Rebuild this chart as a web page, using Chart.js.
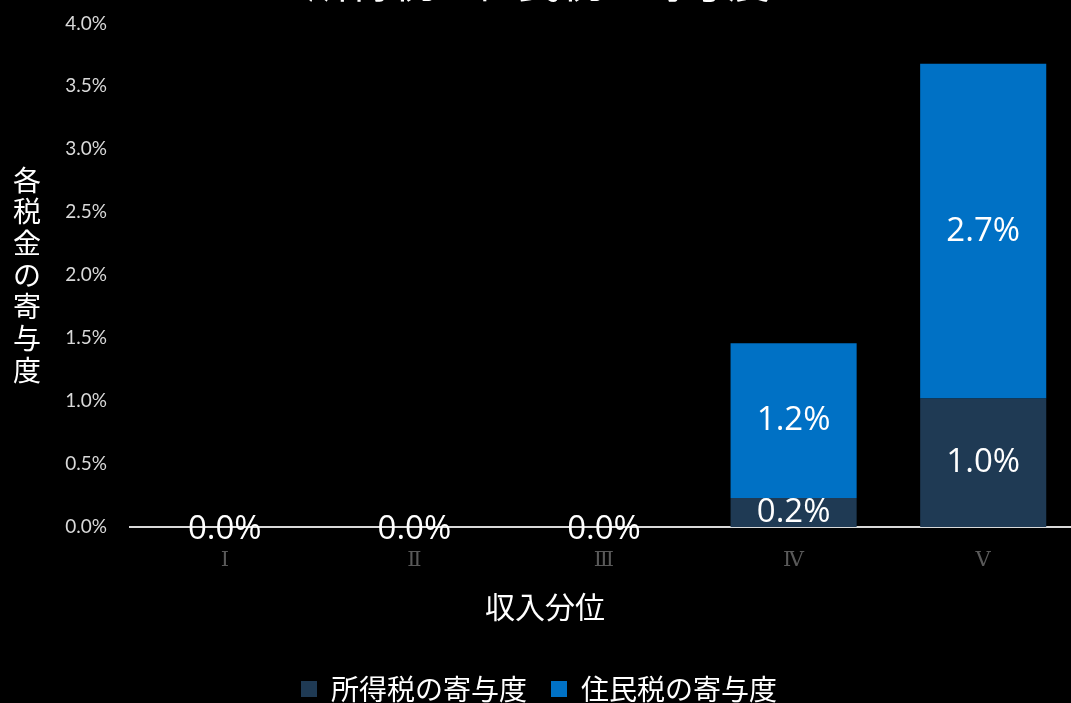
<!DOCTYPE html>
<html>
<head>
<meta charset="utf-8">
<script src="https://cdn.jsdelivr.net/npm/chart.js@4"></script>
<style>
  html, body { margin: 0; padding: 0; background: #000; overflow: hidden; }
  #wrap { position: absolute; left: 0; top: -43px; width: 1078px; height: 756px; }
</style>
</head>
<body>
<div id="wrap"><canvas id="chart"></canvas></div>
<script>
// data
const categories = ['Ⅰ', 'Ⅱ', 'Ⅲ', 'Ⅳ', 'Ⅴ'];
const incomeTax = [0.0, 0.0, 0.0, 0.23, 1.02];
const residentTax = [0.0, 0.0, 0.0, 1.23, 2.66];
const incomeLabels = ['0.0%', '0.0%', '0.0%', '0.2%', '1.0%'];
const residentLabels = ['', '', '', '1.2%', '2.7%'];
const seriesNames = ['所得税の寄与度', '住民税の寄与度'];
const yTitle = '各税金の寄与度';
const xTitle = '収入分位';

const labelFont = '"Noto Sans CJK JP", "Noto Sans", sans-serif';

// value labels in the middle of each bar piece
const barLabels = {
  id: 'barLabels',
  afterDatasetsDraw(chart) {
    const ctx = chart.ctx;
    const texts = [incomeLabels, residentLabels];
    ctx.save();
    ctx.fillStyle = '#ffffff';
    ctx.font = '33px "Open Sans", sans-serif';
    ctx.textAlign = 'center';
    ctx.textBaseline = 'middle';
    chart.data.datasets.forEach(function(ds, i) {
      chart.getDatasetMeta(i).data.forEach(function(bar, j) {
        const t = texts[i][j];
        if (!t) return;
        let y = (bar.y + bar.base) / 2;
        if (Math.abs(bar.base - bar.y) < 1) y += 3;
        ctx.fillText(t, bar.x, y);
      });
    });
    ctx.restore();
  }
};

// axis titles (y one is written top to bottom)
const axisTitles = {
  id: 'axisTitles',
  afterDraw(chart) {
    const ctx = chart.ctx;
    ctx.save();
    ctx.fillStyle = '#ffffff';
    ctx.font = '28px ' + labelFont;
    ctx.textAlign = 'center';
    ctx.textBaseline = 'middle';
    for (let i = 0; i < yTitle.length; i++) {
      ctx.fillText(yTitle[i], 27, 223 + i * 31.7);
    }
    ctx.font = '30px ' + labelFont;
    ctx.fillText(xTitle, 545, 650);
    ctx.restore();
  }
};

new Chart(document.getElementById('chart'), {
  type: 'bar',
  data: {
    labels: categories,
    datasets: [
      { label: seriesNames[0], data: incomeTax, backgroundColor: '#1F3A54' },
      { label: seriesNames[1], data: residentTax, backgroundColor: '#0071C5' }
    ]
  },
  options: {
    responsive: true,
    maintainAspectRatio: false,
    animation: false,
    layout: { padding: { left: 0, right: 0, top: 0, bottom: 0 } },
    datasets: { bar: { categoryPercentage: 1.0, barPercentage: 0.665 } },
    plugins: {
      title: {
        display: true,
        text: '所得税・住民税の寄与度',
        color: '#ffffff',
        font: { family: labelFont, size: 42, weight: 'normal' },
        padding: { top: 0, bottom: 16 }
      },
      legend: {
        position: 'bottom',
        labels: {
          color: '#ffffff',
          font: { family: labelFont, size: 28 },
          boxWidth: 16,
          boxHeight: 16,
          padding: 24
        }
      },
      tooltip: { enabled: false }
    },
    scales: {
      x: {
        stacked: true,
        grid: { display: false },
        border: { color: '#d9d9d9', width: 2 },
        ticks: {
          color: '#595959',
          font: { family: '"DejaVu Serif", serif', size: 21 },
          padding: 13
        },
        afterFit(scale) { scale.height = 124; }
      },
      y: {
        stacked: true,
        min: 0,
        max: 4,
        grid: { display: false },
        border: { display: false },
        ticks: {
          stepSize: 0.5,
          color: '#d9d9d9',
          font: { family: 'Lato, sans-serif', size: 19 },
          padding: 15,
          callback: function(v) { return v.toFixed(1) + '%'; }
        },
        afterFit(scale) { scale.width = 130; }
      }
    }
  },
  plugins: [barLabels, axisTitles]
});
</script>
</body>
</html>
